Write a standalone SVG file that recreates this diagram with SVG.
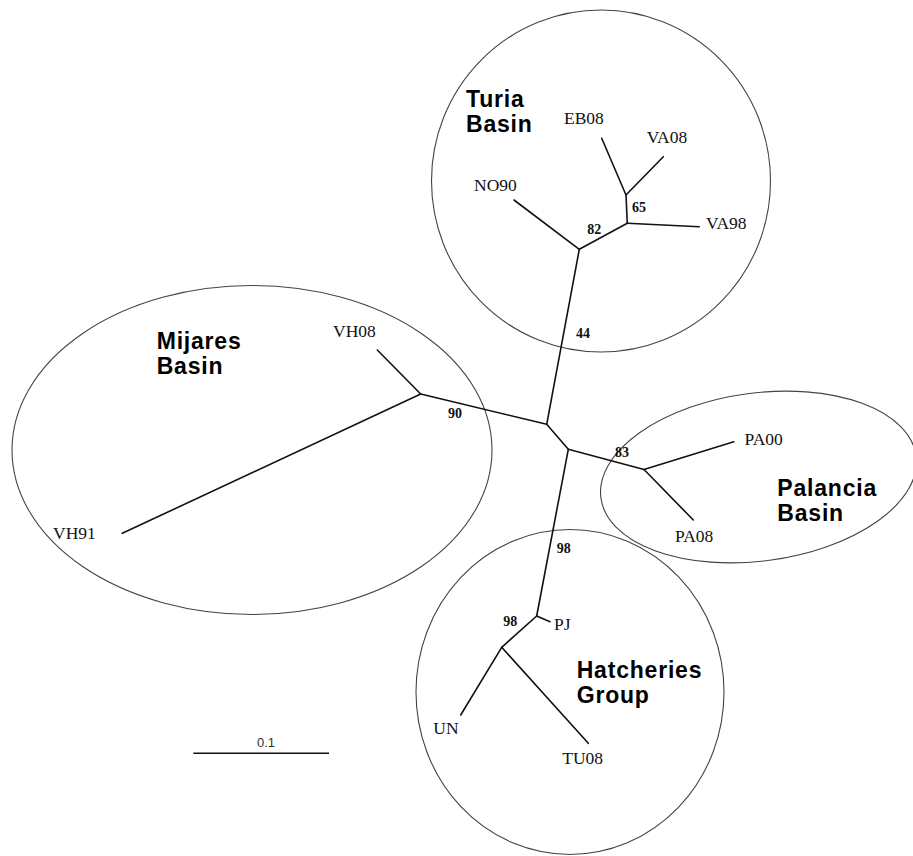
<svg xmlns="http://www.w3.org/2000/svg" width="913" height="856" viewBox="0 0 913 856">
<style>
.grp{fill:none;stroke:#444;stroke-width:1.1}
.br{fill:none;stroke:#111;stroke-width:1.6;stroke-linecap:round;stroke-linejoin:round}
.lab{font-family:"Liberation Serif","Times New Roman",serif;font-size:17.5px;fill:#111}
.bs{font-family:"Liberation Serif","Times New Roman",serif;font-size:14px;font-weight:bold;fill:#111}
.title{font-family:"Liberation Sans",Arial,sans-serif;font-size:23px;font-weight:bold;letter-spacing:0.8px;fill:#000}
.scale{font-family:"Liberation Sans",Arial,sans-serif;font-size:13px;fill:#333}
</style>
<rect width="913" height="856" fill="#fff"/>
<g id="turia-basin">
<ellipse class="grp" cx="601" cy="181" rx="169.5" ry="171"/>
<text class="title" x="466" y="106.7">Turia</text>
<text class="title" x="466" y="131.7">Basin</text>
</g>
<g id="mijares-basin">
<ellipse class="grp" cx="252" cy="450" rx="240" ry="164.5"/>
<text class="title" x="156.7" y="349.3">Mijares</text>
<text class="title" x="156.7" y="374">Basin</text>
</g>
<g id="palancia-basin">
<ellipse class="grp" cx="758.5" cy="477" rx="159" ry="84" transform="rotate(-7.6 758.5 477)"/>
<text class="title" x="777.3" y="496">Palancia</text>
<text class="title" x="777.3" y="521">Basin</text>
</g>
<g id="hatcheries-group">
<ellipse class="grp" cx="570" cy="692" rx="154" ry="162.5"/>
<text class="title" x="576.7" y="678.3">Hatcheries</text>
<text class="title" x="576.7" y="703">Group</text>
</g>
<g id="connectors">
<polyline class="br" points="579.3,249.3 546.7,424.3 568.3,449.3 536.7,616"/>
<line class="br" x1="546.7" y1="424.3" x2="420.7" y2="394"/>
<line class="br" x1="420.7" y1="394" x2="377.3" y2="350"/>
<line class="br" x1="420.7" y1="394" x2="122.3" y2="533.3"/>
<line class="br" x1="568.3" y1="449.3" x2="644" y2="469.5"/>
<line class="br" x1="644" y1="469.5" x2="733.8" y2="441.7"/>
<line class="br" x1="644" y1="469.5" x2="693.3" y2="520"/>
<line class="br" x1="536.7" y1="616" x2="550" y2="621.7"/>
<line class="br" x1="536.7" y1="616" x2="501.7" y2="647.3"/>
<line class="br" x1="501.7" y1="647.3" x2="460.7" y2="715"/>
<line class="br" x1="501.7" y1="647.3" x2="588.3" y2="743.3"/>
<line class="br" x1="579.3" y1="249.3" x2="514" y2="200"/>
<line class="br" x1="579.3" y1="249.3" x2="627.3" y2="223.3"/>
<line class="br" x1="627.3" y1="223.3" x2="626" y2="195"/>
<line class="br" x1="627.3" y1="223.3" x2="699.3" y2="226.7"/>
<line class="br" x1="626" y1="195" x2="601.7" y2="138.3"/>
<line class="br" x1="626" y1="195" x2="663.3" y2="156.7"/>
</g>
<g id="leaf-labels">
<text class="lab" x="564" y="124">EB08</text>
<text class="lab" x="646.7" y="143.3">VA08</text>
<text class="lab" x="474" y="190.7">NO90</text>
<text class="lab" x="706" y="229.3">VA98</text>
<text class="lab" x="333" y="337">VH08</text>
<text class="lab" x="53" y="539">VH91</text>
<text class="lab" x="744.5" y="445">PA00</text>
<text class="lab" x="675" y="542.3">PA08</text>
<text class="lab" x="554" y="630">PJ</text>
<text class="lab" x="433.3" y="734">UN</text>
<text class="lab" x="562.3" y="764.3">TU08</text>
</g>
<g id="bootstrap-values">
<text class="bs" x="632" y="211.7">65</text>
<text class="bs" x="587.3" y="234.3">82</text>
<text class="bs" x="576" y="338.3">44</text>
<text class="bs" x="448" y="418">90</text>
<text class="bs" x="615" y="456.5">83</text>
<text class="bs" x="556.7" y="552.7">98</text>
<text class="bs" x="503.3" y="626">98</text>
</g>
<g id="scale-bar">
<line x1="193.3" y1="753.3" x2="329" y2="753.3" stroke="#111" stroke-width="1.4"/>
<text class="scale" x="266" y="747.3" text-anchor="middle">0.1</text>
</g>
</svg>
